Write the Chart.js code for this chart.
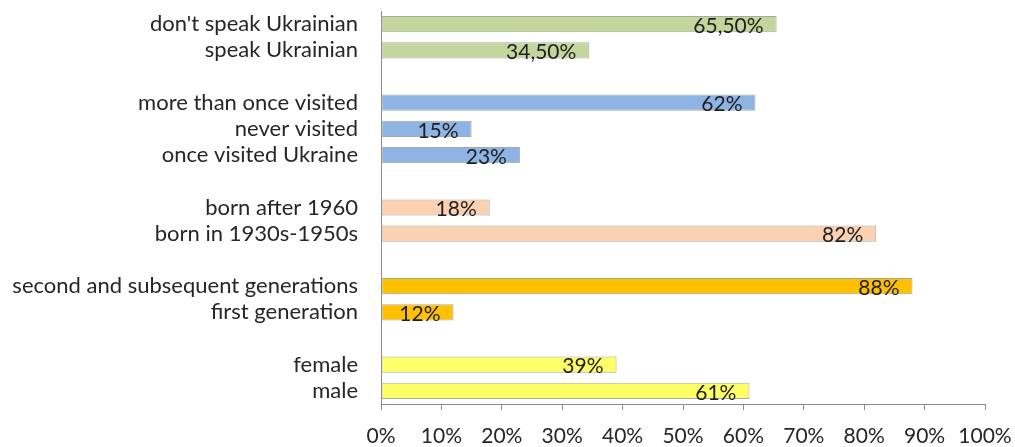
<!DOCTYPE html>
<html>
<head>
<meta charset="utf-8">
<script src="https://cdn.jsdelivr.net/npm/chart.js@4.4.1/dist/chart.umd.min.js"></script>
<style>
html,body{margin:0;padding:0;background:#fff;}
#wrap{width:1015px;height:447px;position:relative;}
</style>
</head>
<body>
<div id="wrap"><canvas id="c"></canvas></div>
<script>
const categories = [
  "don't speak Ukrainian", "speak Ukrainian", "",
  "more than once visited", "never visited", "once visited Ukraine", "",
  "born after 1960", "born in 1930s-1950s", "",
  "second and subsequent generations", "first generation", "",
  "female", "male"
];
const values = [65.5, 34.5, null, 62, 15, 23, null, 18, 82, null, 88, 12, null, 39, 61];
const barColors = [
  "#C3D69B", "#C3D69B", "#ffffff",
  "#8EB4E3", "#8EB4E3", "#8EB4E3", "#ffffff",
  "#FBD1B2", "#FBD1B2", "#ffffff",
  "#FFC000", "#FFC000", "#ffffff",
  "#FFFF66", "#FFFF66"
];
const xTicks = [0, 10, 20, 30, 40, 50, 60, 70, 80, 90, 100];

const FONT = "Lato, 'Open Sans', sans-serif";
const AXIS = "#8a8a8a";

function fmt(v) {
  return Number.isInteger(v) ? v + "%" : v.toFixed(2).replace(".", ",") + "%";
}

const valueLabels = {
  id: "valueLabels",
  afterDatasetsDraw(chart) {
    const ctx = chart.ctx;
    const meta = chart.getDatasetMeta(0);
    ctx.save();
    ctx.font = "21px " + FONT;
    ctx.fillStyle = "#1e1e1e";
    ctx.textAlign = "right";
    ctx.textBaseline = "middle";
    meta.data.forEach((bar, i) => {
      const v = values[i];
      if (v === null || v === undefined) return;
      ctx.fillText(fmt(v), bar.x - 13, bar.y + 2);
    });
    ctx.restore();
  }
};

new Chart(document.getElementById("c"), {
  type: "bar",
  data: {
    labels: categories,
    datasets: [{
      data: values,
      backgroundColor: barColors,
      borderColor: "#a8a8a8",
      borderWidth: 1,
      borderSkipped: false,
      barPercentage: 0.62,
      categoryPercentage: 1
    }]
  },
  options: {
    indexAxis: "y",
    responsive: true,
    maintainAspectRatio: false,
    animation: false,
    layout: { padding: { top: 11, right: 30, left: 0, bottom: 0 } },
    plugins: { legend: { display: false }, tooltip: { enabled: false } },
    scales: {
      x: {
        min: 0, max: 100,
        afterBuildTicks(scale) { scale.ticks = xTicks.map(v => ({ value: v })); },
        afterFit(scale) { scale.height = 43; scale.paddingLeft = 0; scale.paddingRight = 0; },
        grid: { display: true, drawOnChartArea: false, drawTicks: true, tickLength: 6, color: AXIS },
        border: { display: true, color: AXIS, width: 1 },
        ticks: {
          callback: v => v + "%",
          color: "#262626",
          font: { family: FONT, size: 21 },
          padding: 14,
          maxRotation: 0,
          autoSkip: false
        }
      },
      y: {
        afterFit(scale) { scale.width = 381; scale.paddingTop = 0; scale.paddingBottom = 0; },
        grid: { display: false },
        border: { display: true, color: AXIS, width: 1 },
        ticks: {
          color: "#262626",
          font: { family: FONT, size: 22 },
          padding: 15,
          autoSkip: false
        }
      }
    }
  },
  plugins: [valueLabels]
});
</script>
</body>
</html>
